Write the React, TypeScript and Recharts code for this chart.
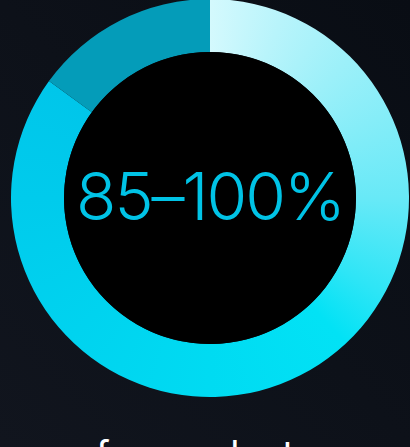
import React, { useMemo } from 'react'
import { PieChart, Pie, Cell, Label } from 'recharts'

// ring shares (clockwise from 12 o'clock)
const segments = ['85%', '15%']
const shares = [85, 15]
const centerLabel = '85–100%'
const caption = 'of users lost'

const W = 410
const H = 447
const CX = 210
const CY = 198

const ringData = segments.map((name, i) => ({ name, value: shares[i] }))
const holeData = [{ name: 'hole', value: 1 }]

// conic colour ramp for the big slice, drawn once on a canvas
const CONIC_STOPS: Array<[number, string]> = [
  [0, '#d4f9fd'],
  [0.06, '#b8f4fb'],
  [0.125, '#9cf0f9'],
  [0.25, '#68e9f7'],
  [0.33, '#2ee5f6'],
  [0.38, '#02e2f5'],
  [0.5, '#00dbf2'],
  [0.625, '#00d3ef'],
  [0.75, '#00cbec'],
  [0.85, '#00c6ea'],
  [1, '#00c6ea'],
]

function useConicImage() {
  return useMemo(() => {
    const canvas = document.createElement('canvas')
    canvas.width = W
    canvas.height = H
    const ctx = canvas.getContext('2d') as any
    if (!ctx || !ctx.createConicGradient) return ''
    const g = ctx.createConicGradient(-Math.PI / 2, CX, CY)
    CONIC_STOPS.forEach(([t, c]) => g.addColorStop(t, c))
    ctx.fillStyle = g
    ctx.fillRect(0, 0, W, H)
    return canvas.toDataURL()
  }, [])
}

const CenterText = (props: any) => {
  const vb = props.viewBox || {}
  const x = Number.isFinite(vb.cx) ? vb.cx : CX
  const y = Number.isFinite(vb.cy) ? vb.cy : CY
  return (
    <text
      x={x}
      y={y - 2}
      textAnchor="middle"
      dominantBaseline="central"
      fill="#00c3e6"
      fontSize={66}
      fontFamily="Inter, 'Noto Sans', sans-serif"
      fontWeight={300}
      letterSpacing={-2}
    >
      {props.value}
    </text>
  )
}

export default function App() {
  const conic = useConicImage()

  return (
    <div
      style={{
        position: 'absolute',
        left: 0,
        top: 0,
        width: W,
        height: H,
        overflow: 'hidden',
        background: 'linear-gradient(to bottom left, #090d14, #11151e)',
      }}
    >
      <PieChart width={W} height={H} margin={{ top: 0, right: 0, bottom: 0, left: 0 }}>
        <defs>
          <pattern id="ringConic" patternUnits="userSpaceOnUse" x={0} y={0} width={W} height={H}>
            <rect x={0} y={0} width={W} height={H} fill="#00d6f0" />
            {conic && <image href={conic} x={0} y={0} width={W} height={H} />}
          </pattern>
        </defs>
        <Pie
          data={ringData}
          dataKey="value"
          cx={CX}
          cy={CY}
          innerRadius={146}
          outerRadius={199}
          startAngle={90}
          endAngle={-270}
          stroke="none"
          isAnimationActive={false}
        >
          <Cell fill="url(#ringConic)" />
          <Cell fill="#049cb9" />
        </Pie>
        <Pie
          data={holeData}
          dataKey="value"
          cx={CX}
          cy={CY}
          innerRadius={0}
          outerRadius={146}
          fill="#000000"
          stroke="none"
          isAnimationActive={false}
        >
          <Label value={centerLabel} position="center" content={<CenterText />} />
        </Pie>
      </PieChart>
      <div
        style={{
          position: 'absolute',
          left: 73,
          top: 435,
          fontFamily: "Inter, 'Noto Sans', sans-serif",
          fontWeight: 400,
          fontSize: 38,
          lineHeight: 1,
          color: '#ffffff',
          whiteSpace: 'nowrap',
        }}
      >
        {caption}
      </div>
    </div>
  )
}
